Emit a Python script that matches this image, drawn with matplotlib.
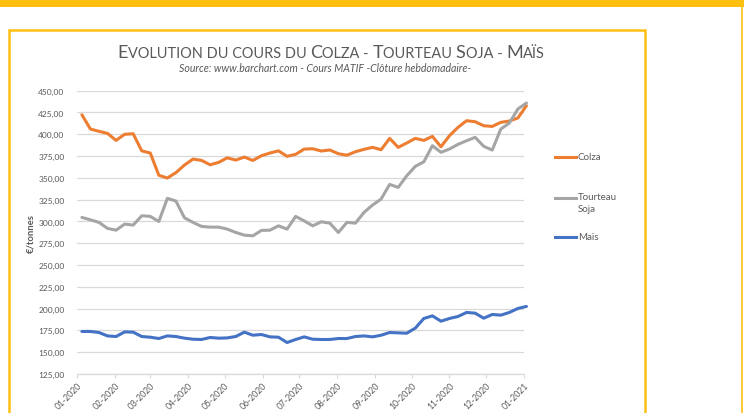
import matplotlib
matplotlib.use("Agg")
import matplotlib.pyplot as plt
import matplotlib.dates as mdates
import matplotlib.ticker as mticker
import pandas as pd
from matplotlib.lines import Line2D
from matplotlib.patches import Rectangle

# ---------------- data ----------------
dates = pd.date_range("2020-01-05", periods=53, freq="7D")

colza = [422.4, 406.0, 403.4, 401.0, 393.0, 400.0, 400.6, 381.0, 378.5, 353.0,
         349.8, 356.0, 364.7, 371.6, 370.0, 365.0, 367.8, 373.0, 370.4, 373.9,
         370.0, 375.4, 378.5, 381.0, 374.7, 377.0, 383.0, 383.4, 380.8, 382.0,
         377.7, 376.0, 380.0, 382.7, 385.0, 382.3, 395.3, 385.0, 390.0, 395.3,
         393.0, 397.6, 385.7, 398.4, 408.0, 415.6, 414.4, 409.8, 409.0, 413.7,
         415.2, 418.7, 432.8]

tourteau = [304.6, 301.9, 298.9, 292.0, 290.0, 297.0, 295.8, 306.5, 305.8, 300.0,
            326.5, 323.4, 304.2, 298.9, 294.3, 293.5, 293.5, 291.2, 287.4, 284.3,
            283.5, 289.7, 290.0, 295.0, 291.2, 305.8, 300.7, 295.0, 299.6, 298.1,
            287.4, 298.9, 298.1, 310.4, 318.8, 325.7, 342.5, 339.1, 352.4, 363.2,
            368.5, 386.9, 379.3, 383.1, 388.5, 392.6, 396.5, 386.2, 381.9, 406.0,
            412.9, 429.0, 435.9]

mais = [173.8, 173.8, 172.6, 168.7, 168.0, 173.3, 173.0, 168.0, 167.2, 165.7,
        168.7, 168.0, 166.1, 164.9, 164.6, 166.9, 166.1, 166.4, 168.0, 173.0,
        169.5, 170.3, 167.6, 167.2, 161.1, 164.6, 167.6, 164.9, 164.6, 164.6,
        165.7, 165.7, 168.0, 168.7, 167.6, 169.5, 172.6, 172.2, 171.8, 177.6,
        188.7, 191.7, 185.6, 188.7, 191.0, 195.6, 194.8, 189.0, 193.3, 192.5,
        195.6, 200.2, 202.5]

series_names = ["Colza", "Tourteau\nSoja", "Maïs"]
series_colors = ["#ED7D31", "#A5A5A5", "#4472C4"]

title_parts = [("E", True), ("VOLUTION DU COURS DU ", False), ("C", True), ("OLZA - ", False),
               ("T", True), ("OURTEAU ", False), ("S", True), ("OJA - ", False),
               ("M", True), ("AÏS", False)]
subtitle = "Source: www.barchart.com - Cours MATIF -Clôture hebdomadaire-"
ylabel = "€/tonnes"

# ---------------- figure ----------------
W, H = 744, 414
fig = plt.figure(figsize=(W / 100, H / 100), dpi=100)
fig.patch.set_facecolor("white")
FONT = ["Lato", "DejaVu Sans"]
GRAY = "#595959"
YEL = "#FDBF10"

def fx(px):
    return px / W

def fy(py):
    return 1 - py / H

# frame decorations
fig.add_artist(Rectangle((0, fy(8)), 1, 8 / H, transform=fig.transFigure,
                         facecolor=YEL, edgecolor="none"))
fig.add_artist(Line2D([fx(742), fx(742)], [fy(8), 0], transform=fig.transFigure,
                      color=YEL, lw=1.2))
fig.add_artist(Rectangle((fx(9), fy(430)), fx(645) - fx(9), fy(31) - fy(430),
                         transform=fig.transFigure, facecolor="none",
                         edgecolor=YEL, lw=1.8))

ax = fig.add_axes([fx(77), fy(375), fx(524) - fx(77), fy(91.7) - fy(375)])

for vals, name, col in zip([colza, tourteau, mais], series_names, series_colors):
    ax.plot(dates, vals, color=col, lw=2.2, solid_joinstyle="round",
            solid_capstyle="round", label=name, clip_on=False)

ax.set_ylim(125, 450)
ax.set_xlim(pd.Timestamp("2020-01-01"), pd.Timestamp("2021-01-01"))
ax.yaxis.set_major_locator(mticker.MultipleLocator(25))
ax.yaxis.set_major_formatter(mticker.FuncFormatter(lambda v, p: f"{v:.2f}".replace(".", ",")))
ax.xaxis.set_major_locator(mdates.MonthLocator())
ax.xaxis.set_major_formatter(mdates.DateFormatter("%m-%Y"))

ax.grid(axis="y", color="#D9D9D9", lw=0.9)
ax.set_axisbelow(True)
for s in ["top", "right", "left"]:
    ax.spines[s].set_visible(False)
ax.spines["bottom"].set_color("#D9D9D9")
ax.spines["bottom"].set_linewidth(0.9)
ax.tick_params(axis="y", length=0, pad=9, labelsize=6, labelcolor=GRAY)
ax.tick_params(axis="x", length=3, width=0.8, color="#D9D9D9", pad=2,
               labelsize=6.2, labelcolor=GRAY)
for lab in ax.get_yticklabels() + ax.get_xticklabels():
    lab.set_family(FONT)
for lab in ax.get_xticklabels():
    lab.set_rotation(45)
    lab.set_ha("right")
    lab.set_rotation_mode("anchor")

ax.set_ylabel(ylabel, fontsize=6.8, color=GRAY, fontweight="bold", family=FONT, labelpad=2)

# ---------------- title in small caps ----------------
renderer = fig.canvas.get_renderer()
big, small = 12.0, 9.6
texts = []
for s, is_big in title_parts:
    t = fig.text(0, fy(58.3), s, fontsize=big if is_big else small, color=GRAY,
                 family=FONT, va="baseline", ha="left")
    texts.append(t)
widths = [t.get_window_extent(renderer).width for t in texts]
target = 430.0
scale = target / sum(widths)
for t, (s, is_big) in zip(texts, title_parts):
    t.set_fontsize((big if is_big else small) * scale)
widths = [t.get_window_extent(renderer).width for t in texts]
x = 331 - sum(widths) / 2
for t, w in zip(texts, widths):
    t.set_x(fx(x))
    x += w

fig.text(fx(325), fy(71.7), subtitle, fontsize=7.6, style="italic", color=GRAY,
         family=FONT, ha="center", va="baseline")

# ---------------- legend ----------------
leg_y = [158, 199, 238]
for name, col, yy in zip(series_names, series_colors, leg_y):
    fig.add_artist(Line2D([fx(555), fx(576)], [fy(yy), fy(yy)], transform=fig.transFigure,
                          color=col, lw=2.2))
    if "\n" in name:
        fig.text(fx(578), fy(yy - 5.5), name, fontsize=7, color=GRAY, family=FONT,
                 ha="left", va="top", linespacing=1.3)
    else:
        fig.text(fx(578), fy(yy), name, fontsize=7, color=GRAY, family=FONT,
                 ha="left", va="center")

fig.savefig("out.png", dpi=100, facecolor="white")
